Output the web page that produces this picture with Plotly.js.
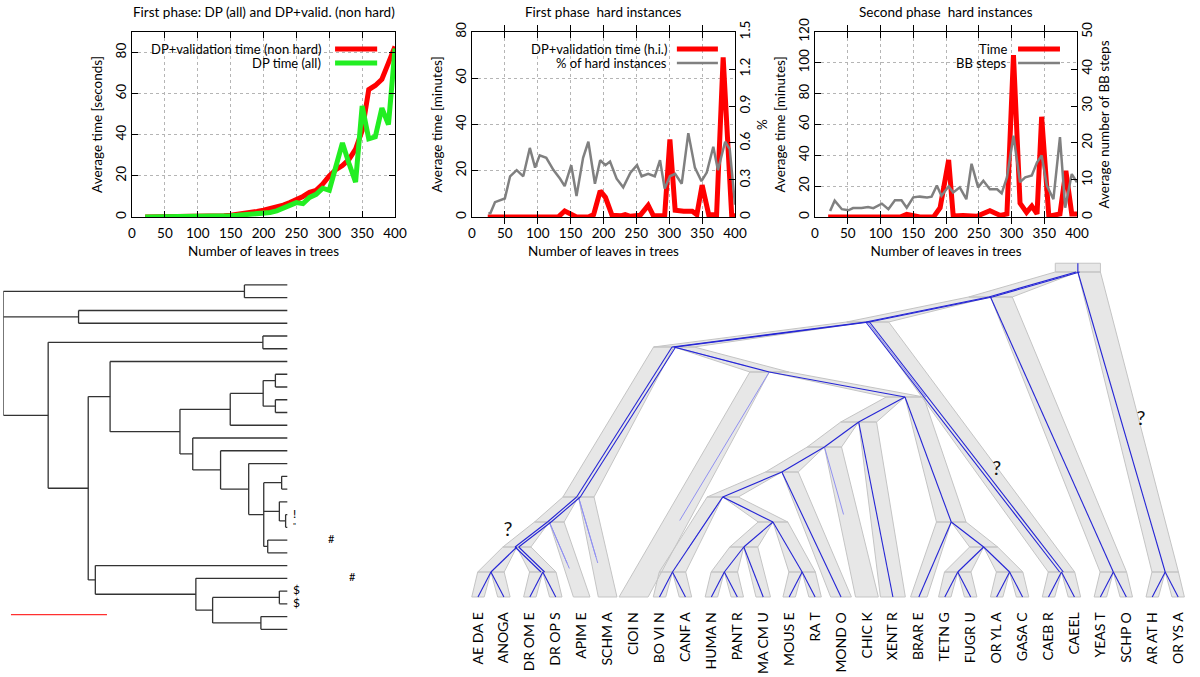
<!DOCTYPE html>
<html>
<head>
<meta charset="utf-8">
<script src="https://cdn.plot.ly/plotly-3.0.1.min.js"></script>
<style>
html, body { margin: 0; padding: 0; background: #fff; }
#fig { width: 1200px; height: 677px; }
</style>
</head>
<body>
<div id="fig"></div>
<script>
var FONT = 'Lato, "Open Sans", sans-serif';

// ---- panel 1: first phase, DP (all) and DP+valid. (non hard), seconds ----
var nLeaves = [20,30,40,50,60,70,80,90,100,110,120,130,140,150,160,170,180,190,200,210,220,230,240,250,260,270,280,290,300,310,320,330,340,350,360,370,380,390,400];
var dpValidNonHard = [0,0,0,0,0,0,0,0,0.1,0.2,0.3,0.4,0.6,0.9,1.2,1.6,2.1,2.7,3.3,4,4.8,5.8,7,8.2,10,12,13,16,20,23,25,28,33,42,62,64,67,75,83];
var dpAll = [0,0,0,0,0,0,0,0,0.1,0.1,0.2,0.3,0.4,0.6,0.8,1,1.3,1.6,1.9,2.2,3,4.3,5.5,7,6.5,9.5,11,14,13,24,36,26,17,54,38,39,53,45,82];

// ---- panel 2: first phase, hard instances ----
var hiX = [24,131,141,151,159,177,185,195,203,213,226,233,241,256,268,276,293,301,309,322,335,342,350,360,372,382,395,400];
var hiTime = [0,0,2.6,1,0,0,1,11.3,8.5,0.7,0.5,1,0.3,0.8,5,0.5,0.5,33.5,2.9,2.5,2.5,1,13.8,1,1,69,0.5,0.5];
var pctX = [25,28,35,50,58,68,78,88,96,103,113,124,134,141,151,159,169,177,187,195,203,210,220,230,241,251,258,268,278,286,293,301,309,319,329,339,349,357,367,374,385,392,400];
var hardPct = [0.03,0.03,0.12,0.15,0.33,0.38,0.33,0.56,0.40,0.50,0.48,0.38,0.31,0.25,0.42,0.17,0.48,0.61,0.27,0.46,0.42,0.45,0.31,0.24,0.36,0.42,0.33,0.35,0.33,0.46,0.23,0.33,0.35,0.27,0.68,0.40,0.29,0.36,0.57,0.38,0.61,0.55,0.1];

// ---- panel 3: second phase, hard instances ----
var p2X = [20,130,140,155,160,181,191,204,211,226,247,267,283,293,303,313,323,331,339,346,357,374,383,392,400];
var p2Time = [0,0,1.7,0.5,0,0,6,37,0.6,1,0.5,4,1,2,105,9,3,7,2,65,0.5,2,30,2,2];
var bbX = [23,30,41,51,58,71,81,89,102,112,122,132,140,150,160,171,178,186,193,204,211,221,231,239,249,257,267,278,285,293,303,313,321,331,339,346,354,364,374,382,392,400];
var bbSteps = [1.6,4.4,2.1,1.8,2.4,2.4,2.7,2.4,3.6,2.1,4.5,4.5,2.5,5.3,5.5,5.3,5.5,8.5,5.7,8.3,6.6,8,4.8,14.4,8,9.8,7.5,7.5,6.4,10.7,22,9.4,10.7,11.2,14.8,16.6,8.5,4.8,21.6,2.5,11.6,9.4];

// ---- dendrogram (bottom left): [depth, children...], '' = leaf ----
var o = '';
var dendroTree = [0,
  [0.849, o, o],
  [0.265, o, o],
  [0.158,
    [0.914, o, o],
    [0.299,
      [0.376,
        o,
        [0.622,
          [0.799, [0.915, [0.958, o, o], [0.958, o, o]], o],
          [0.667, o,
            [0.765, o,
              [0.864, o,
                [0.917, [0.980, o, o], [0.972, o, [0.994, o, o]], [0.931, o, o]]]]]]],
      [0.324, o,
        [0.678, o,
          [0.737, [0.972, o, o], [0.907, o, o]]]]]]];
var dendroMarks = ['!', '"', '#', '#', '$', '$'];
var dendroMarkRow = [18, 19, 20, 23, 24, 25];
var dendroMarkDepth = [1.02, 1.02, 1.143, 1.217, 1.02, 1.02];
var dendroMarkSize = [12, 8, 11, 11, 12, 12];
var scaleBar = [0.027, 0.365];   // red scale bar (depth units)
var scaleBarRow = 25.85;

// ---- species tree of the reconciliation (bottom right): [name, rank, children...] ----
var speciesTree = ['root', 13,
  ['O', 12,
    ['B', 11,
      ['A', 10,
        ['P', 4,
          ['Ins', 3,
            ['Dip', 2, ['Mos', 1, 'AE DA E', 'ANOGA'], ['Dro', 1, 'DR OM E', 'DR OP S']],
            'APIM E'],
          'SCHM A'],
        ['D', 9,
          'CIOI N',
          ['C', 8,
            ['Tet', 7,
              ['Amn', 6,
                ['Ther', 5,
                  ['Plac', 4,
                    ['Lau', 1, 'BO VI N', 'CANF A'],
                    ['Euar', 3, ['Pri', 2, ['HP', 1, 'HUMA N', 'PANT R'], 'MA CM U'], ['Rod', 1, 'MOUS E', 'RA T']]],
                  'MOND O'],
                'CHIC K'],
              'XENT R'],
            ['Fish', 3, 'BRAR E', ['Perc', 2, ['TF', 1, 'TETN G', 'FUGR U'], ['OG', 1, 'OR YL A', 'GASA C']]]]]],
      ['Nem', 1, 'CAEB R', 'CAEEL']],
    ['Fun', 1, 'YEAS T', 'SCHP O']],
  ['Pla', 1, 'AR AT H', 'OR YS A']];
var geneCopies = {O: 2, B: 2, A: 2, P: 2, Ins: 2, Dip: 2, Dro: 2, Nem: 2, 'APIM E': 0, 'SCHM A': 0, 'CIOI N': 0, 'CHIC K': 0};
var lostCopies = {'APIM E': [0.55, 0.62], 'SCHM A': [0.6, 0.66], 'CIOI N': [0.66], D: [0.75], 'CHIC K': [0.45], Nem: [0.3], Euar: [0.55], Lau: [0.7]};
var unsure = [[1.16, 2.64], [20.0, 5.08], [25.57, 7.08]];   // '?' marks (leaf index, rank)

// ---------- build dendrogram lines ----------
var dx = [], dy = [], leafRow = 0;
function walkDendro(node) {
  if (!Array.isArray(node)) { return {y: leafRow++, d: 1}; }
  var kids = [];
  for (var i = 1; i < node.length; i++) kids.push(walkDendro(node[i]));
  var d = node[0];
  kids.forEach(function (k) { dx.push(d, k.d, null); dy.push(k.y, k.y, null); });
  dx.push(d, d, null); dy.push(kids[0].y, kids[kids.length - 1].y, null);
  return {y: (kids[0].y + kids[kids.length - 1].y) / 2, d: d};
}
walkDendro(dendroTree);

// ---------- build species tree ----------
var spLeaves = [], spNodes = [];
function walkSpecies(t, parent) {
  var n;
  if (typeof t === 'string') {
    n = {name: t, rank: 0, x: spLeaves.length, parent: parent, kids: []};
    spLeaves.push(n);
  } else {
    n = {name: t[0], rank: t[1], parent: parent, kids: []};
    for (var i = 2; i < t.length; i++) n.kids.push(walkSpecies(t[i], n));
    n.x = n.kids.reduce(function (s, k) { return s + k.x; }, 0) / n.kids.length;
  }
  spNodes.push(n);
  return n;
}
walkSpecies(speciesTree, null);
// tube half width: caps widen towards the root, leaf tubes widen with the length of their branch
function halfW(n) {
  if (n.kids.length) return 0.48 + 0.03 * n.rank;
  return Math.min(0.24 + 0.04 * (n.parent.rank - 1), 0.56);
}

var tubeX = [], tubeY = [], geneX = [], geneY = [], lossX = [], lossY = [];
spNodes.forEach(function (n) {
  var p = n.parent;
  if (!p) {
    var w = halfW(n);
    tubeX.push(n.x - w, n.x + w, n.x + w, n.x - w, n.x - w, null);
    tubeY.push(n.rank + 0.35, n.rank + 0.35, n.rank, n.rank, n.rank + 0.35, null);
    geneX.push(n.x, n.x, null); geneY.push(n.rank + 0.35, n.rank, null);
    return;
  }
  var pw = halfW(p), cw = halfW(n), k = p.kids.indexOf(n), m = p.kids.length;
  var left = p.x - pw + 2 * pw * k / m, right = p.x - pw + 2 * pw * (k + 1) / m;
  tubeX.push(left, right, n.x + cw, n.x - cw, left, null);
  tubeY.push(p.rank, p.rank, n.rank, n.rank, p.rank, null);
  var c = geneCopies[n.name] === undefined ? 1 : geneCopies[n.name];
  for (var j = 0; j < c; j++) {
    var off = (j - (c - 1) / 2) * 0.14;
    geneX.push(p.x + off, n.x + off, null); geneY.push(p.rank, n.rank, null);
  }
  (lostCopies[n.name] || []).forEach(function (f) {
    lossX.push(p.x, p.x + f * (n.x - p.x), null); lossY.push(p.rank, p.rank + f * (n.rank - p.rank), null);
  });
});

// ---------- traces ----------
var traces = [
  {x: nLeaves, y: dpValidNonHard, xaxis: 'x', yaxis: 'y', mode: 'lines', line: {color: '#ff0000', width: 5}},
  {x: nLeaves, y: dpAll, xaxis: 'x', yaxis: 'y', mode: 'lines', line: {color: '#22ee22', width: 5}},
  {x: pctX, y: hardPct, xaxis: 'x2', yaxis: 'y3', mode: 'lines', line: {color: '#808080', width: 2.5}},
  {x: hiX, y: hiTime, xaxis: 'x2', yaxis: 'y2', mode: 'lines', line: {color: '#ff0000', width: 5}},
  {x: bbX, y: bbSteps, xaxis: 'x3', yaxis: 'y5', mode: 'lines', line: {color: '#808080', width: 2.5}},
  {x: p2X, y: p2Time, xaxis: 'x3', yaxis: 'y4', mode: 'lines', line: {color: '#ff0000', width: 5}},
  {x: dx, y: dy, xaxis: 'x4', yaxis: 'y6', mode: 'lines', line: {color: '#333333', width: 1.3}},
  {x: scaleBar, y: [scaleBarRow, scaleBarRow], xaxis: 'x4', yaxis: 'y6', mode: 'lines', line: {color: '#ff3030', width: 1.2}},
  {x: dendroMarkDepth, y: dendroMarkRow, text: dendroMarks, xaxis: 'x4', yaxis: 'y6', mode: 'text',
    textposition: 'middle right', textfont: {family: FONT, size: dendroMarkSize, color: '#000'}},
  {x: tubeX, y: tubeY, xaxis: 'x5', yaxis: 'y7', mode: 'lines', fill: 'toself', fillcolor: '#e7e7e7',
    line: {color: '#c4c4c4', width: 1}},
  {x: lossX, y: lossY, xaxis: 'x5', yaxis: 'y7', mode: 'lines', line: {color: '#9090f0', width: 1}},
  {x: geneX, y: geneY, xaxis: 'x5', yaxis: 'y7', mode: 'lines', line: {color: '#2525d5', width: 1.1}},
  {x: unsure.map(function (u) { return u[0]; }), y: unsure.map(function (u) { return u[1]; }),
    text: unsure.map(function () { return '?'; }), xaxis: 'x5', yaxis: 'y7', mode: 'text',
    textfont: {family: FONT, size: 20, color: '#111'}}
];
traces.forEach(function (t) { t.showlegend = false; t.hoverinfo = 'skip'; });

// ---------- layout ----------
function frame(opts) {
  var a = {showline: true, linecolor: '#000', linewidth: 1, mirror: 'allticks', ticks: 'inside', ticklen: 6,
    tickcolor: '#000', tickwidth: 1, showgrid: true, gridcolor: '#b5b5b5', griddash: 'dot', gridwidth: 1,
    zeroline: false, fixedrange: true, tickfont: {family: FONT, size: 13.5, color: '#000'}};
  for (var k in opts) a[k] = opts[k];
  return a;
}
function ttl(text, standoff) { return {text: text, standoff: standoff, font: {family: FONT, size: 13.5, color: '#000'}}; }
var topDom = [0.6795, 0.9527];
var xTitle = 'Number of leaves in trees';
function hidden(o2) {
  var a = {showgrid: false, zeroline: false, showline: false, showticklabels: false, ticks: '', fixedrange: true};
  for (var k in o2) a[k] = o2[k];
  return a;
}

var layout = {
  width: 1200, height: 677, margin: {l: 0, r: 0, t: 0, b: 0},
  paper_bgcolor: '#fff', plot_bgcolor: 'rgba(0,0,0,0)', showlegend: false,
  font: {family: FONT, size: 13.5, color: '#000'},
  xaxis: frame({domain: [0.11, 0.3292], range: [0, 400], dtick: 50, anchor: 'y', ticklabelstandoff: 4, title: ttl(xTitle, 6)}),
  yaxis: frame({domain: topDom, range: [0, 90], dtick: 20, anchor: 'x', tickangle: -90, title: ttl('Average time [seconds]', 6)}),
  xaxis2: frame({domain: [0.3933, 0.6125], range: [0, 400], dtick: 50, anchor: 'y2', ticklabelstandoff: 4, title: ttl(xTitle, 6)}),
  yaxis2: frame({domain: topDom, range: [0, 80], dtick: 20, anchor: 'x2', mirror: true, tickangle: -90, title: ttl('Average time [minutes]', 6)}),
  yaxis3: frame({range: [0, 1.5], dtick: 0.3, overlaying: 'y2', anchor: 'x2', side: 'right', showgrid: false, mirror: false, showline: false, tickangle: -90, title: ttl('%', 6)}),
  xaxis3: frame({domain: [0.6792, 0.8975], range: [0, 400], dtick: 50, anchor: 'y4', ticklabelstandoff: 4, title: ttl(xTitle, 6)}),
  yaxis4: frame({domain: topDom, range: [0, 120], dtick: 20, anchor: 'x3', mirror: true, tickangle: -90, title: ttl('Average time [minutes]', 6)}),
  yaxis5: frame({range: [0, 50], dtick: 10, overlaying: 'y4', anchor: 'x3', side: 'right', showgrid: false, mirror: false, showline: false, tickangle: -90, title: ttl('Average number of BB steps', 6)}),
  xaxis4: hidden({domain: [0.00275, 0.2986], range: [0, 1.25], anchor: 'y6'}),
  yaxis6: hidden({domain: [0.061, 0.5885], range: [27.5, -0.5], anchor: 'x4'}),
  xaxis5: hidden({domain: [0.3767, 0.9991], range: [-1, 27.8], anchor: 'y7', showticklabels: true,
    tickvals: spLeaves.map(function (l) { return l.x; }), ticktext: spLeaves.map(function (l) { return l.name; }),
    tickangle: -90, ticklabelstandoff: 4, tickfont: {family: FONT, size: 14, color: '#000'}}),
  yaxis7: hidden({domain: [0.1071, 0.6278], range: [-0.3, 13.8], anchor: 'x5'}),
  annotations: [],
  shapes: []
};

// panel titles and hand-made legends (text on the left, line sample on the right, gnuplot style)
var panels = [
  {x: 'x', y: 'y', title: 'First phase: DP (all) and DP+valid. (non hard)', tx: 0.722, lx: [0.772, 0.932],
    items: [['DP+validation time (non hard)', '#ff0000', 5], ['DP time (all)', '#22ee22', 5]]},
  {x: 'x2', y: 'y2', title: 'First phase  hard instances', tx: 0.745, lx: [0.779, 0.935],
    items: [['DP+validation time (h.i.)', '#ff0000', 5], ['% of hard instances', '#808080', 2.5]]},
  {x: 'x3', y: 'y4', title: 'Second phase  hard instances', tx: 0.737, lx: [0.775, 0.935],
    items: [['Time', '#ff0000', 5], ['BB steps', '#808080', 2.5]]}
];
var rowY = [0.908, 0.832];
panels.forEach(function (p) {
  layout.annotations.push({xref: p.x + ' domain', yref: 'paper', x: 0.5, y: 1 - 12 / 677, text: p.title,
    showarrow: false, xanchor: 'center', yanchor: 'middle', font: {family: FONT, size: 13.5, color: '#000'}});
  p.items.forEach(function (it, i) {
    layout.annotations.push({xref: p.x + ' domain', yref: p.y + ' domain', x: p.tx, y: rowY[i], text: it[0],
      showarrow: false, xanchor: 'right', yanchor: 'middle', borderpad: 0, font: {family: FONT, size: 13, color: '#000'}});
    layout.shapes.push({type: 'line', xref: p.x + ' domain', yref: p.y + ' domain', x0: p.lx[0], x1: p.lx[1],
      y0: rowY[i], y1: rowY[i], line: {color: it[1], width: it[2]}});
  });
});

Plotly.newPlot('fig', traces, layout, {staticPlot: true, displayModeBar: false});
</script>
</body>
</html>
